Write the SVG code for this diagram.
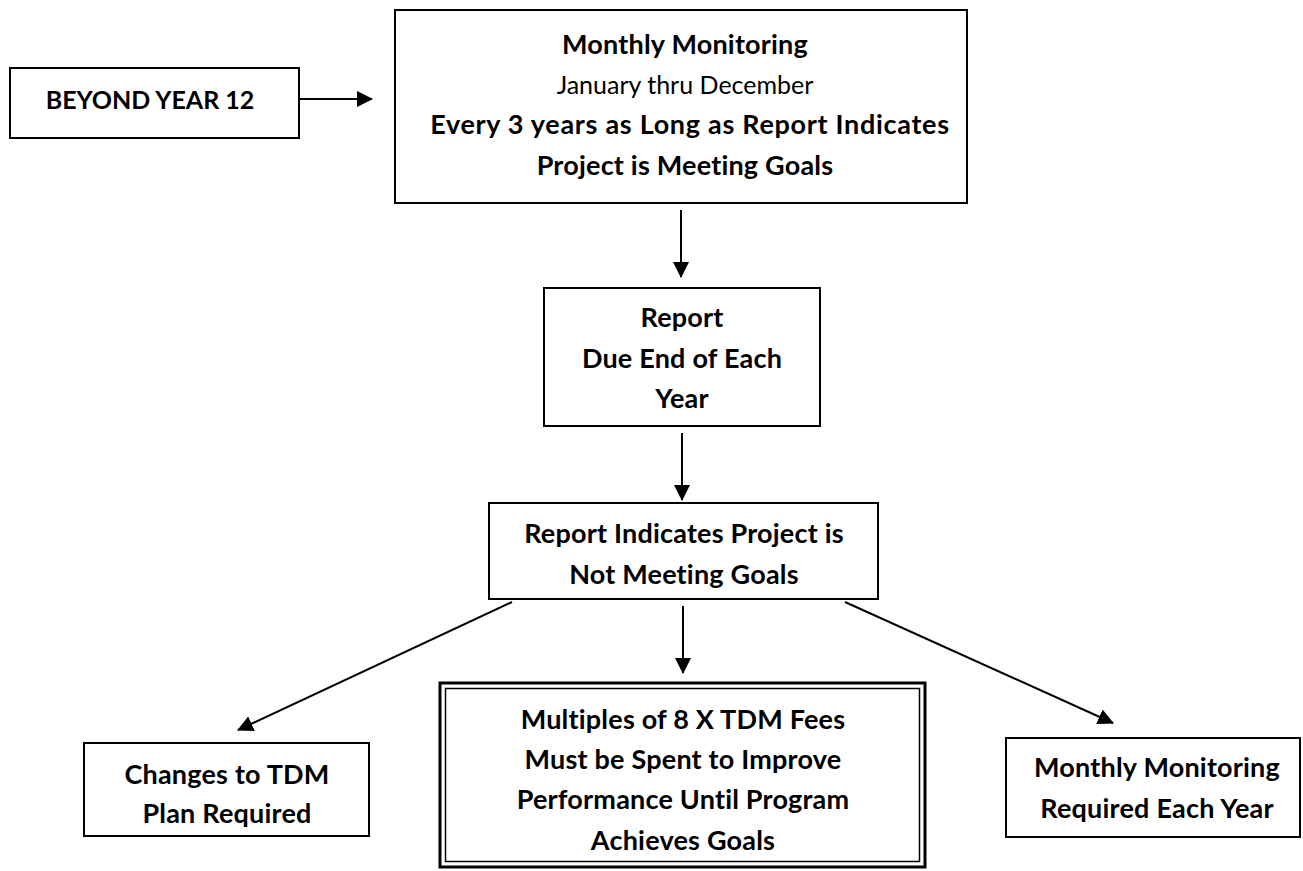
<svg xmlns="http://www.w3.org/2000/svg" width="1303" height="871" viewBox="0 0 1303 871">
<defs>
<style>
.box{fill:#fff;stroke:#000;stroke-width:2}
.t{font-family:Lato,"Liberation Sans",sans-serif;font-size:27px;font-weight:bold;fill:#000;text-anchor:middle;letter-spacing:0.2px}
.n{font-weight:normal;font-size:25px;letter-spacing:0}
.s{font-size:25px;letter-spacing:0}
.w{letter-spacing:0.7px}
.c{fill:none;stroke:#000;stroke-width:2}
</style>
<marker id="ah" markerUnits="userSpaceOnUse" markerWidth="16" markerHeight="16" viewBox="0 0 16 16" refX="15" refY="8" orient="auto">
<path d="M0,0 L16,8 L0,16 Z" fill="#000"/>
</marker>
</defs>
<rect width="1303" height="871" fill="#fff"/>
<g id="connectors">
<line class="c" x1="297" y1="99" x2="372" y2="99" marker-end="url(#ah)"/>
<line class="c" x1="681" y1="210" x2="681" y2="277" marker-end="url(#ah)"/>
<line class="c" x1="682" y1="433" x2="682" y2="500" marker-end="url(#ah)"/>
<line class="c" x1="512" y1="602" x2="238" y2="730" marker-end="url(#ah)"/>
<line class="c" x1="683" y1="606" x2="683" y2="673" marker-end="url(#ah)"/>
<line class="c" x1="845" y1="602" x2="1113" y2="723" marker-end="url(#ah)"/>
</g>
<g id="beyond">
<rect class="box" x="10" y="68" width="289" height="70"/>
<text class="t s" x="150" y="109">BEYOND YEAR 12</text>
</g>
<g id="monthly-monitoring">
<rect class="box" x="395" y="10" width="572" height="193"/>
<text class="t" x="685" y="54">Monthly Monitoring</text>
<text class="t n" x="685" y="94">January thru December</text>
<text class="t w" x="690" y="134">Every 3 years as Long as Report Indicates</text>
<text class="t" x="685" y="175">Project is Meeting Goals</text>
</g>
<g id="report">
<rect class="box" x="544" y="288" width="276" height="138"/>
<text class="t" x="682" y="327">Report</text>
<text class="t" x="682" y="368">Due End of Each</text>
<text class="t" x="682" y="408">Year</text>
</g>
<g id="not-meeting">
<rect class="box" x="489" y="503" width="389" height="96"/>
<text class="t" x="684" y="543">Report Indicates Project is</text>
<text class="t" x="684" y="584">Not Meeting Goals</text>
</g>
<g id="changes">
<rect class="box" x="84" y="743" width="285" height="93"/>
<text class="t" x="227" y="784">Changes to TDM</text>
<text class="t" x="227" y="823">Plan Required</text>
</g>
<g id="multiples">
<rect x="440" y="683" width="485" height="184" fill="#fff" stroke="#000" stroke-width="3"/>
<rect x="445.5" y="688.5" width="474" height="173" fill="none" stroke="#000" stroke-width="1.5"/>
<text class="t" x="683" y="729">Multiples of 8 X TDM Fees</text>
<text class="t" x="683" y="769">Must be Spent to Improve</text>
<text class="t" x="683" y="809">Performance Until Program</text>
<text class="t" x="683" y="850">Achieves Goals</text>
</g>
<g id="monthly-required">
<rect class="box" x="1006" y="738" width="294" height="99"/>
<text class="t" x="1157" y="777">Monthly Monitoring</text>
<text class="t" x="1157" y="818">Required Each Year</text>
</g>
</svg>
